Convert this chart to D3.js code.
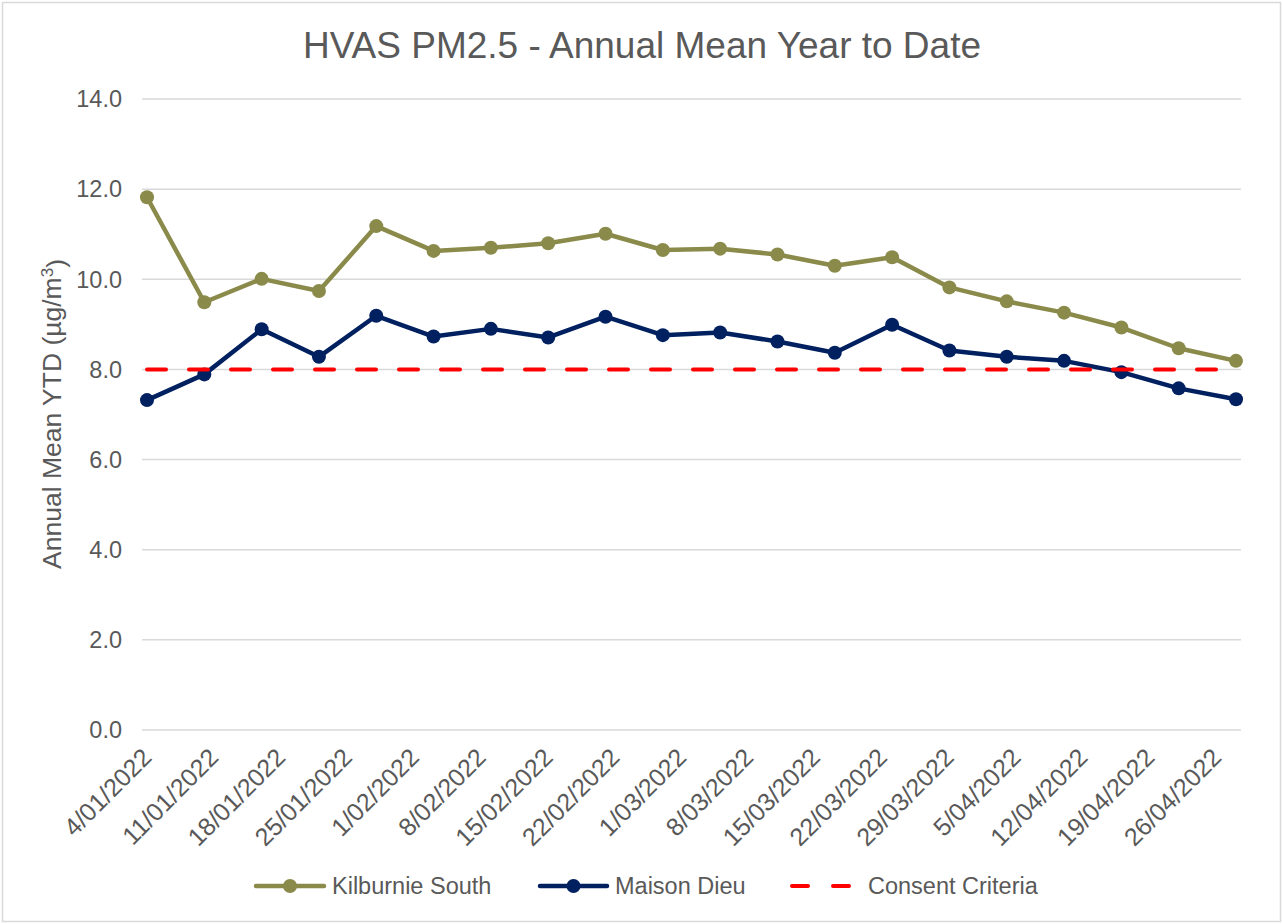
<!DOCTYPE html>
<html>
<head>
<meta charset="utf-8">
<script src="https://cdn.jsdelivr.net/npm/d3@7"></script>
<style>
  body { margin: 0; background: #ffffff; }
  svg { display: block; font-family: "Liberation Sans", Arial, sans-serif; }
  .grid line { stroke: #d9d9d9; stroke-width: 1.5; }
  .lbl { fill: #595959; }
</style>
</head>
<body>
<div id="chart_box"></div>
<script>
// sample dates (every 6 days) and annual mean YTD values
var sampleDates = ["2022-01-04", "2022-01-10", "2022-01-16", "2022-01-22", "2022-01-28",
                   "2022-02-03", "2022-02-09", "2022-02-15", "2022-02-21", "2022-02-27",
                   "2022-03-05", "2022-03-11", "2022-03-17", "2022-03-23", "2022-03-29",
                   "2022-04-04", "2022-04-10", "2022-04-16", "2022-04-22", "2022-04-28"];
var kilburnieSouth = [11.82, 9.49, 10.01, 9.74, 11.18, 10.63, 10.70, 10.80, 11.01, 10.65,
                      10.68, 10.55, 10.30, 10.49, 9.82, 9.51, 9.26, 8.93, 8.47, 8.19];
var maisonDieu = [7.32, 7.89, 8.89, 8.28, 9.19, 8.73, 8.90, 8.71, 9.17, 8.76,
                  8.82, 8.62, 8.37, 8.99, 8.42, 8.28, 8.19, 7.94, 7.58, 7.34];
var consentCriteria = [8, 8, 8, 8, 8, 8, 8, 8, 8, 8, 8, 8, 8, 8, 8, 8, 8, 8, 8, 8];

// x tick labels (weekly) and y ticks
var tickDates = ["2022-01-04", "2022-01-11", "2022-01-18", "2022-01-25", "2022-02-01",
                 "2022-02-08", "2022-02-15", "2022-02-22", "2022-03-01", "2022-03-08",
                 "2022-03-15", "2022-03-22", "2022-03-29", "2022-04-05", "2022-04-12",
                 "2022-04-19", "2022-04-26"];
var yTicks = [0, 2, 4, 6, 8, 10, 12, 14];

var seriesNames = ["Kilburnie South", "Maison Dieu", "Consent Criteria"];

var width = 1283, height = 924;
var olive = "#8a8a4b", navy = "#002060", red = "#ff0000";

var parse = d3.utcParse("%Y-%m-%d");
var fmt = d3.utcFormat("%-d/%m/%Y");
var dates = sampleDates.map(parse);

var svg = d3.select("#chart_box").append("svg")
    .attr("width", width)
    .attr("height", height);

// chart border
svg.append("rect")
    .attr("x", 2.5).attr("y", 2.5)
    .attr("width", width - 5).attr("height", height - 5)
    .attr("fill", "#fff")
    .attr("stroke", "#d9d9d9")
    .attr("stroke-width", 1.5);

var x = d3.scaleUtc()
    .domain([dates[0], dates[dates.length - 1]])
    .range([147, 1236]);
var y = d3.scaleLinear()
    .domain([0, 14])
    .range([730, 99]);

// title
svg.append("text")
    .attr("class", "lbl")
    .attr("x", 642).attr("y", 58)
    .attr("text-anchor", "middle")
    .style("font-size", "37px")
    .text("HVAS PM2.5 - Annual Mean Year to Date");

// gridlines + y labels
var grid = svg.append("g").attr("class", "grid");
grid.selectAll("line")
    .data(yTicks)
    .enter().append("line")
    .attr("x1", 142).attr("x2", 1241)
    .attr("y1", function (d) { return y(d); })
    .attr("y2", function (d) { return y(d); });

svg.append("g").selectAll("text")
    .data(yTicks)
    .enter().append("text")
    .attr("class", "lbl")
    .attr("x", 122)
    .attr("y", function (d) { return y(d); })
    .attr("dy", "0.35em")
    .attr("text-anchor", "end")
    .style("font-size", "23.5px")
    .text(function (d) { return d3.format(".1f")(d); });

// y axis title
svg.append("text")
    .attr("class", "lbl")
    .attr("transform", "translate(61,414) rotate(-90)")
    .attr("text-anchor", "middle")
    .style("font-size", "26.5px")
    .call(function (t) {
        t.append("tspan").text("Annual Mean YTD (\u00b5g/m");
        t.append("tspan").attr("dy", "-0.45em").style("font-size", "17px").text("3");
        t.append("tspan").attr("dy", "0.45em").text(")");
    });

// x labels
svg.append("g").selectAll("text")
    .data(tickDates.map(parse))
    .enter().append("text")
    .attr("class", "lbl")
    .attr("transform", function (d) {
        return "translate(" + (x(d) + 6) + ",759) rotate(-45)";
    })
    .attr("text-anchor", "end")
    .style("font-size", "25px")
    .text(function (d) { return fmt(d); });

// series
var line = d3.line()
    .x(function (d, i) { return x(dates[i]); })
    .y(function (d) { return y(d); });

function drawSeries(values, color, markers) {
    var g = svg.append("g");
    g.append("path")
        .datum(values)
        .attr("fill", "none")
        .attr("stroke", color)
        .attr("stroke-width", 4.5)
        .attr("stroke-linejoin", "round")
        .attr("d", line);
    if (markers) {
        g.selectAll("circle")
            .data(values)
            .enter().append("circle")
            .attr("cx", function (d, i) { return x(dates[i]); })
            .attr("cy", function (d) { return y(d); })
            .attr("r", 7)
            .attr("fill", color);
    }
    return g;
}

drawSeries(kilburnieSouth, olive, true);
drawSeries(maisonDieu, navy, true);
drawSeries(consentCriteria, red, false).select("path")
    .attr("stroke-width", 4)
    .attr("stroke-linecap", "round")
    .attr("stroke-dasharray", "19,23");

// legend
var legend = svg.append("g").attr("transform", "translate(0,886)");
var legendItems = [
    { name: seriesNames[0], color: olive, x1: 256, x2: 324, tx: 332, marker: true },
    { name: seriesNames[1], color: navy, x1: 540, x2: 607, tx: 615, marker: true },
    { name: seriesNames[2], color: red, x1: 792, x2: 855, tx: 868, marker: false }
];
legendItems.forEach(function (it) {
    var l = legend.append("line")
        .attr("x1", it.x1).attr("x2", it.x2)
        .attr("y1", 0).attr("y2", 0)
        .attr("stroke", it.color)
        .attr("stroke-width", 4.5)
        .attr("stroke-linecap", "round");
    if (it.marker) {
        legend.append("circle")
            .attr("cx", (it.x1 + it.x2) / 2).attr("cy", 0)
            .attr("r", 7).attr("fill", it.color);
    } else {
        l.attr("stroke-dasharray", "16,25").attr("stroke-width", 4);
    }
    legend.append("text")
        .attr("class", "lbl")
        .attr("x", it.tx).attr("y", 0)
        .attr("dy", "0.35em")
        .style("font-size", "23.5px")
        .text(it.name);
});
</script>
</body>
</html>
